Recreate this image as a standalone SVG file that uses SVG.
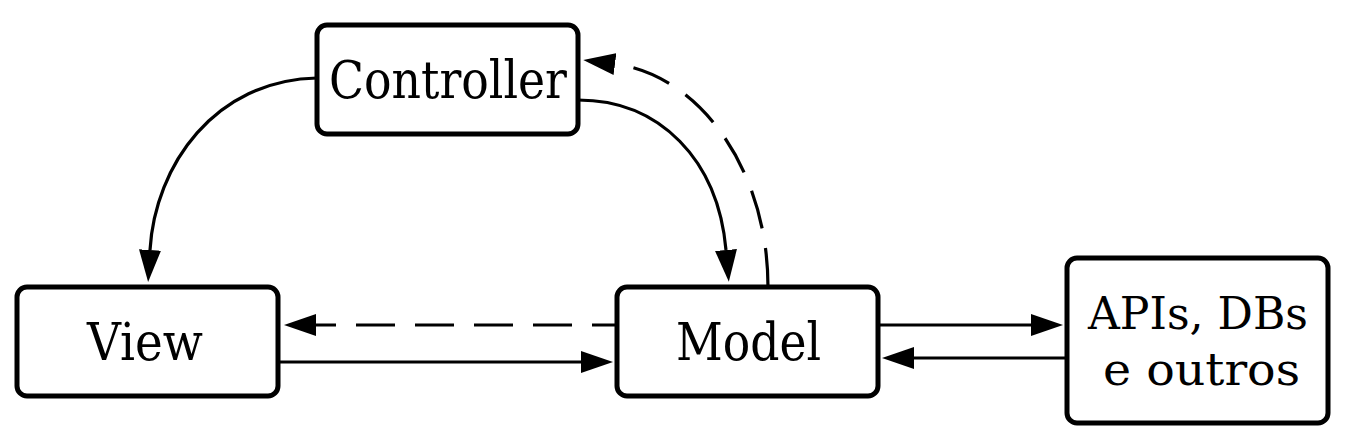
<svg xmlns="http://www.w3.org/2000/svg" width="1346" height="443" viewBox="0 0 1346 443">
  <style>
    .box { fill: #ffffff; stroke: #000000; stroke-width: 5; }
    .conn { fill: none; stroke: #000000; stroke-width: 3.2; }
    .dash { stroke-dasharray: 39 20; }
    .lbl { font-family: "DejaVu Serif", "Liberation Serif", serif; fill: #000000; }
    .big { font-size: 53px; }
    .small { font-size: 44px; }
  </style>
  <defs>
    <marker id="arrow" markerUnits="userSpaceOnUse" viewBox="0 0 32 22" markerWidth="32" markerHeight="22" refX="0" refY="11" orient="auto">
      <path d="M0,0 L32,11 L0,22 z" fill="#000000"/>
    </marker>
  </defs>
  <rect width="1346" height="443" fill="#ffffff"/>
  <g id="connectors">
    <path class="conn" d="M317,78 C215,80 155,165 150,250" marker-end="url(#arrow)"/>
    <path class="conn" d="M578,100 C660,100 718,160 726,250" marker-end="url(#arrow)"/>
    <path class="conn dash" d="M768,287 C768,170 700,75 615,64" marker-end="url(#arrow)"/>
    <path class="conn dash" stroke-dashoffset="14" d="M617,325 L316,325" marker-end="url(#arrow)"/>
    <path class="conn" d="M278,362 L581,362" marker-end="url(#arrow)"/>
    <path class="conn" d="M878,325 L1031,325" marker-end="url(#arrow)"/>
    <path class="conn" d="M1067,358 L914,358" marker-end="url(#arrow)"/>
  </g>
  <g id="controller">
    <rect class="box" x="317" y="25" width="261" height="109" rx="10"/>
    <text class="lbl big" x="329" y="98" textLength="238" lengthAdjust="spacingAndGlyphs">Controller</text>
  </g>
  <g id="view">
    <rect class="box" x="17" y="287" width="261" height="109" rx="10"/>
    <text class="lbl big" x="87" y="360" textLength="116" lengthAdjust="spacingAndGlyphs">View</text>
  </g>
  <g id="model">
    <rect class="box" x="617" y="287" width="261" height="109" rx="10"/>
    <text class="lbl big" x="676" y="360" textLength="145" lengthAdjust="spacingAndGlyphs">Model</text>
  </g>
  <g id="apis">
    <rect class="box" x="1067" y="258" width="261" height="165" rx="10"/>
    <text class="lbl small" x="1088" y="329" textLength="220" lengthAdjust="spacingAndGlyphs">APIs, DBs</text>
    <text class="lbl small" x="1103" y="385" textLength="197" lengthAdjust="spacingAndGlyphs">e outros</text>
  </g>
</svg>
